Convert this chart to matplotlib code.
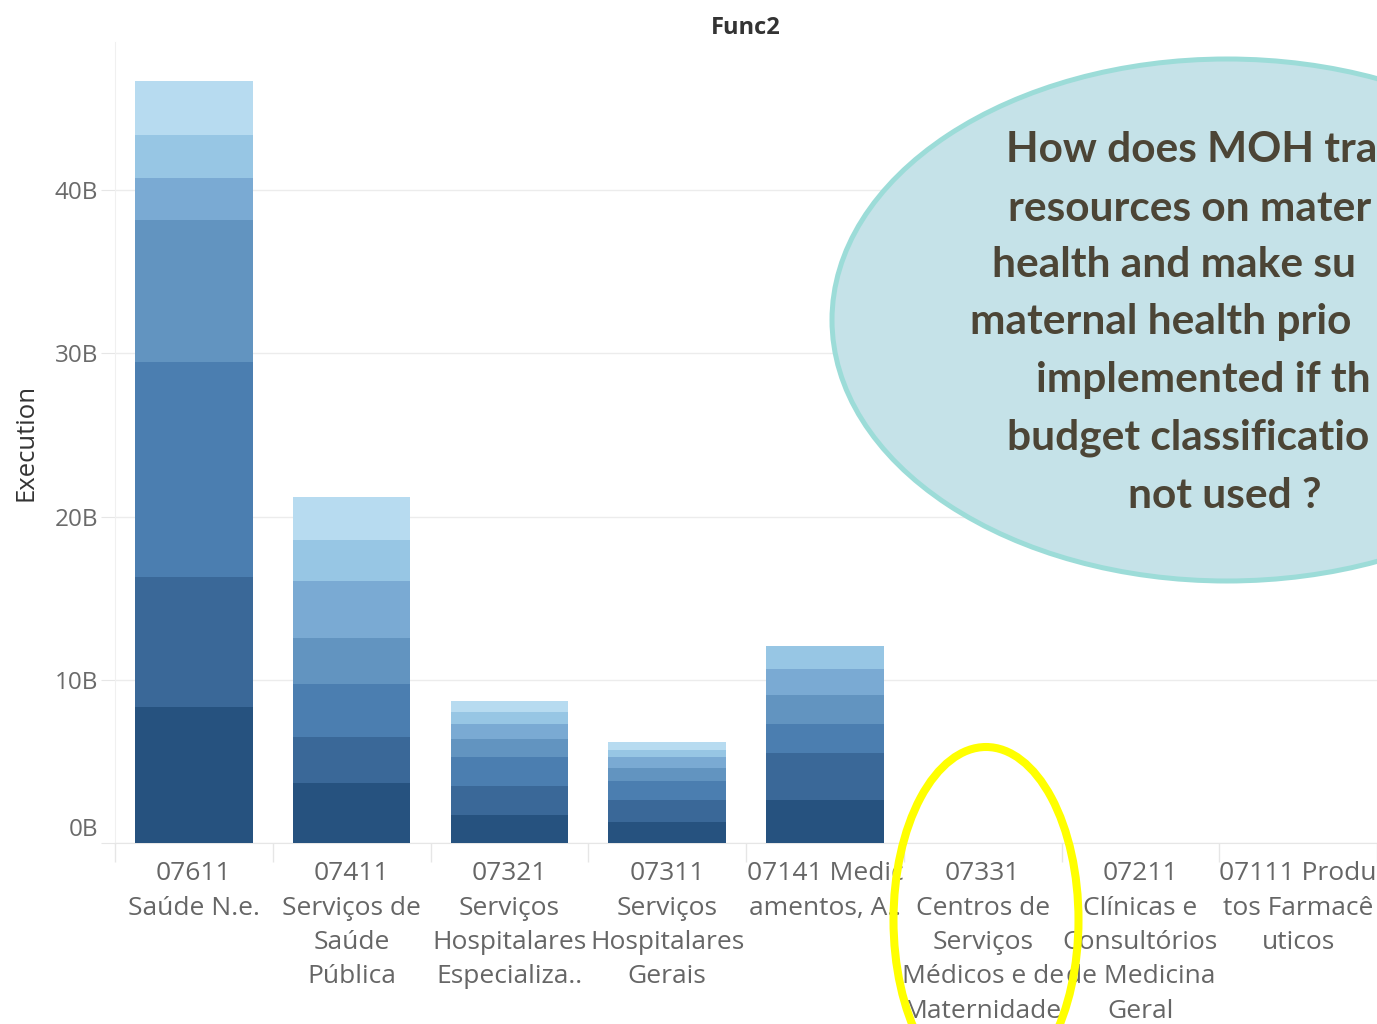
import matplotlib
matplotlib.use("Agg")
import matplotlib.pyplot as plt
from matplotlib.patches import Ellipse
from matplotlib.transforms import ScaledTranslation
import numpy as np

# ---------------- data ----------------
categories = [
    "07611\nSaúde N.e.",
    "07411\nServiços de\nSaúde\nPública",
    "07321\nServiços\nHospitalares\nEspecializa..",
    "07311\nServiços\nHospitalares\nGerais",
    "07141 Medic\namentos, A..",
    "07331\nCentros de\nServiços\nMédicos e de\nMaternidade",
    "07211\nClínicas e\nConsultórios\nde Medicina\nGeral",
    "07111 Produ\ntos Farmacê\nuticos",
]
# stacked segments (billions), bottom (darkest) to top (lightest)
seg1 = [8.35, 3.69, 1.73, 1.32, 2.65, 0, 0, 0]
seg2 = [7.96, 2.82, 1.80, 1.33, 2.86, 0, 0, 0]
seg3 = [13.16, 3.25, 1.74, 1.18, 1.78, 0, 0, 0]
seg4 = [8.70, 2.81, 1.10, 0.76, 1.79, 0, 0, 0]
seg5 = [2.59, 3.49, 0.94, 0.68, 1.58, 0, 0, 0]
seg6 = [2.59, 2.51, 0.75, 0.44, 1.42, 0, 0, 0]
seg7 = [3.35, 2.64, 0.67, 0.51, 0.00, 0, 0, 0]
segments = [seg1, seg2, seg3, seg4, seg5, seg6, seg7]
seg_colors = ["#26527f", "#3a6898", "#4b7eb0", "#6294c0", "#7aaad3", "#97c6e4", "#b7dbf0"]
yticks = [0, 10, 20, 30, 40]
ytick_labels = ["0B", "10B", "20B", "30B", "40B"]

# visible part of the callout text (it runs off the right edge in the source)
question_lines = [
    "How does MOH tra",
    "resources on mater",
    "health and make su",
    "maternal health prio",
    "implemented if th",
    "budget classificatio",
    "not used ?",
]
question_x = [1006, 1008, 992, 970, 1036, 1007, 1128]

# ---------------- figure ----------------
W, H = 1377, 1024
fig = plt.figure(figsize=(W / 100, H / 100), dpi=100)
fig.patch.set_facecolor("white")

ax_left, ax_right = 115, 1377
ax_top, ax_bottom = 42, 843.3
band = 158.3
ax = fig.add_axes([ax_left / W, (H - ax_bottom) / H,
                   (ax_right - ax_left) / W, (ax_bottom - ax_top) / H])

x = np.arange(len(categories))
bottom = np.zeros(len(categories))
for vals, col in zip(segments, seg_colors):
    v = np.array(vals)
    ax.bar(x, v, bottom=bottom, width=0.745, color=col, edgecolor="none", zorder=3)
    bottom += v

ppb = (843.3 - 190) / 40.0
ax.set_xlim(-0.5, -0.5 + (ax_right - ax_left) / band)
ax.set_ylim(0, (ax_bottom - ax_top) / ppb)

ax.set_yticks(yticks)
ax.set_yticklabels(ytick_labels)
ax.grid(axis="y", color="#ececec", linewidth=1.0, zorder=0)
ax.set_axisbelow(True)

for s in ["top", "right"]:
    ax.spines[s].set_visible(False)
ax.spines["left"].set_color("#f0f0f0")
ax.spines["bottom"].set_color("#e6e6e6")

ax.set_xticks(x)
ax.set_xticklabels(categories, fontsize=19, color="#666666",
                   family="Open Sans", linespacing=1.49)
ax.tick_params(axis="x", length=0, pad=13)
ax.set_xticks(np.arange(-0.5, 8, 1), minor=True)
ax.tick_params(axis="x", which="minor", length=14, color="#e6e6e6", width=1)
ax.tick_params(axis="y", length=10, color="#e6e6e6", labelsize=17.5,
               labelcolor="#6a6a6a", pad=2)
for lab in ax.get_yticklabels():
    lab.set_family("Open Sans")
# shift the 0B label up like Tableau
zero_lab = ax.get_yticklabels()[0]
zero_lab.set_transform(zero_lab.get_transform() + ScaledTranslation(0, 16 / 100, fig.dpi_scale_trans))

ax.set_ylabel("Execution", fontsize=18.5, color="#333333", family="Open Sans", labelpad=12)
ax.set_title("Func2", fontsize=17, color="#333333", family="Open Sans",
             fontweight="bold", pad=6)

# ---------------- overlay annotations ----------------
ov = fig.add_axes([0, 0, 1, 1], zorder=10)
ov.set_xlim(0, W)
ov.set_ylim(H, 0)
ov.axis("off")
ov.patch.set_alpha(0)

ov.add_patch(Ellipse((1227, 320), 790, 522, facecolor="#c5e2e8",
                     edgecolor="#9cdcd8", linewidth=3.6))
line_y = [150, 209, 265, 322, 380, 438, 496]
for txt, xx, yy in zip(question_lines, question_x, line_y):
    ov.text(xx, yy, txt, ha="left", va="center", fontsize=30.5,
            fontweight="bold", color="#4c4536", family="Lato")

ov.add_patch(Ellipse((986, 920), 185, 346, facecolor="none",
                     edgecolor="#ffff00", linewidth=5.8))

fig.savefig("out.png", dpi=100)
